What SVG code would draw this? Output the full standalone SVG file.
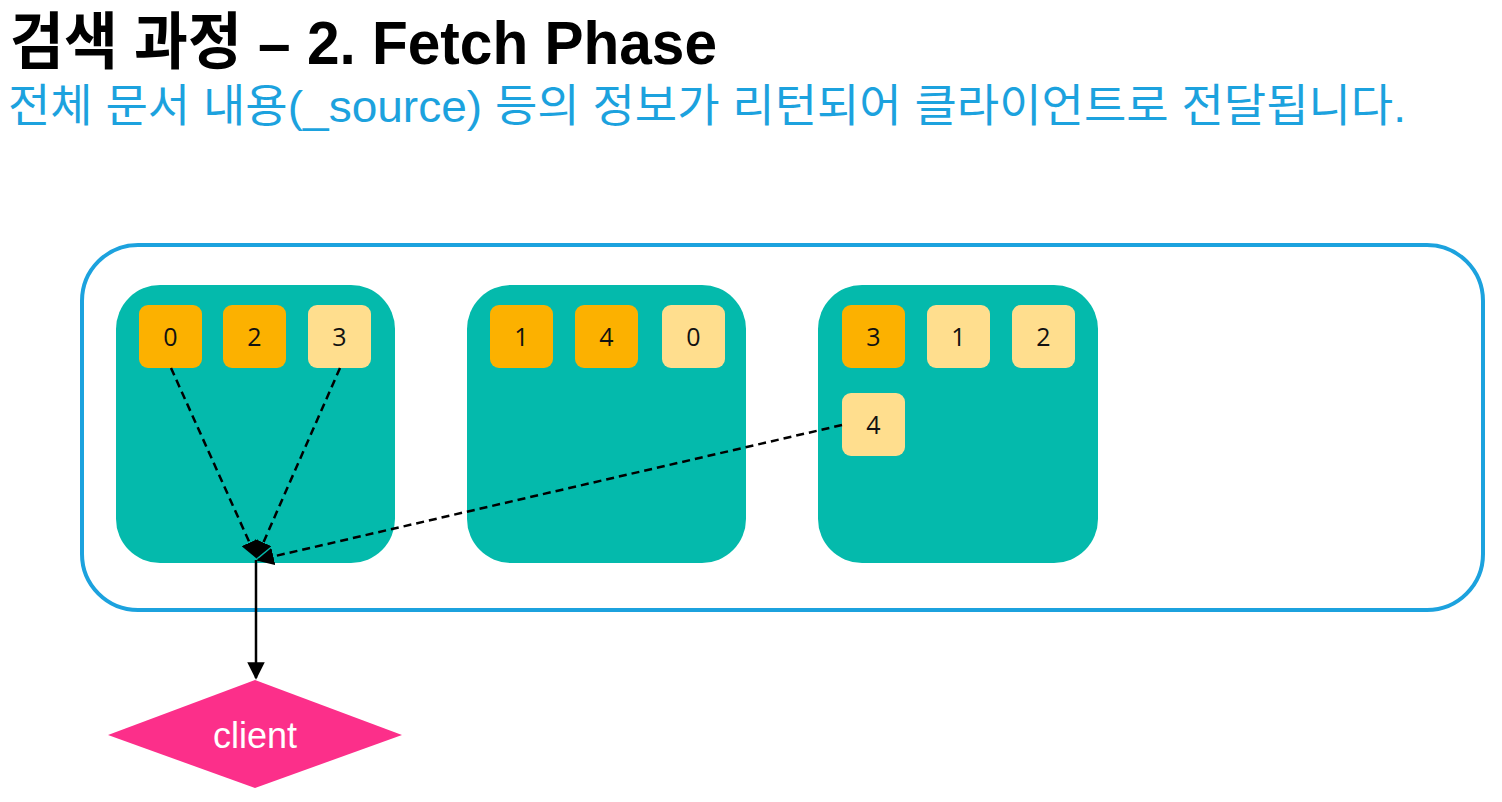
<svg xmlns="http://www.w3.org/2000/svg" width="1502" height="802" viewBox="0 0 1502 802">
<style>
.title{font-family:"Liberation Sans","Noto Sans CJK KR",sans-serif;font-weight:bold;font-size:62px;fill:#000}
.sub{font-family:"Liberation Sans","Noto Sans CJK KR",sans-serif;font-size:45px;fill:#1CA2DE}
.shard{fill:#04BAAC}
.p{fill:#FCB100}
.r{fill:#FFDE8E}
.num{font-family:"Open Sans","Liberation Sans",sans-serif;font-size:25px;fill:#111;text-anchor:middle}
.dash{stroke:#000;stroke-width:2.5;stroke-dasharray:8 5;fill:none}
.solid{stroke:#000;stroke-width:2.5;fill:none}
</style>
<defs>
<marker id="ah" viewBox="0 0 10 10" refX="9" refY="5" markerWidth="7" markerHeight="7" markerUnits="strokeWidth" orient="auto">
<path d="M0,0 L10,5 L0,10 z" fill="#000"/>
</marker>
</defs>
<rect width="1502" height="802" fill="#fff"/>
<text class="title" x="10" y="64" textLength="707" lengthAdjust="spacingAndGlyphs">검색 과정 – 2. Fetch Phase</text>
<text class="sub" x="8" y="122" textLength="1398" lengthAdjust="spacingAndGlyphs">전체 문서 내용(_source) 등의 정보가 리턴되어 클라이언트로 전달됩니다.</text>
<g id="cluster">
<rect x="82" y="245" width="1401" height="365" rx="56" fill="none" stroke="#1CA2DE" stroke-width="4"/>
</g>
<g id="node1">
<rect class="shard" x="116" y="285" width="279" height="278" rx="44"/>
<rect class="p" x="139" y="305" width="63" height="63" rx="9"/><text class="num" x="170.5" y="346">0</text>
<rect class="p" x="223" y="305" width="63" height="63" rx="9"/><text class="num" x="254.5" y="346">2</text>
<rect class="r" x="308" y="305" width="63" height="63" rx="9"/><text class="num" x="339.5" y="346">3</text>
</g>
<g id="node2">
<rect class="shard" x="467" y="285" width="279" height="278" rx="44"/>
<rect class="p" x="490" y="305" width="63" height="63" rx="9"/><text class="num" x="521.5" y="346">1</text>
<rect class="p" x="575" y="305" width="63" height="63" rx="9"/><text class="num" x="606.5" y="346">4</text>
<rect class="r" x="662" y="305" width="63" height="63" rx="9"/><text class="num" x="693.5" y="346">0</text>
</g>
<g id="node3">
<rect class="shard" x="818" y="285" width="280" height="278" rx="44"/>
<rect class="p" x="842" y="305" width="63" height="63" rx="9"/><text class="num" x="873.5" y="346">3</text>
<rect class="r" x="927" y="305" width="63" height="63" rx="9"/><text class="num" x="958.5" y="346">1</text>
<rect class="r" x="1012" y="305" width="63" height="63" rx="9"/><text class="num" x="1043.5" y="346">2</text>
<rect class="r" x="842" y="393" width="63" height="63" rx="9"/><text class="num" x="873.5" y="434">4</text>
</g>
<g id="client">
<polygon points="255,680 402,735 255,788 108,735" fill="#FC2F8A"/>
<text x="255" y="748" font-family="Liberation Sans, Arial, sans-serif" font-size="36" fill="#fff" text-anchor="middle">client</text>
</g>
<g id="connectors">
<line class="dash" x1="171" y1="368" x2="256" y2="557" marker-end="url(#ah)"/>
<line class="dash" x1="340" y1="368" x2="257" y2="557" marker-end="url(#ah)"/>
<line class="dash" x1="842" y1="425" x2="258" y2="560" marker-end="url(#ah)"/>
<line class="solid" x1="256" y1="560" x2="256" y2="678" marker-end="url(#ah)"/>
</g>
</svg>
